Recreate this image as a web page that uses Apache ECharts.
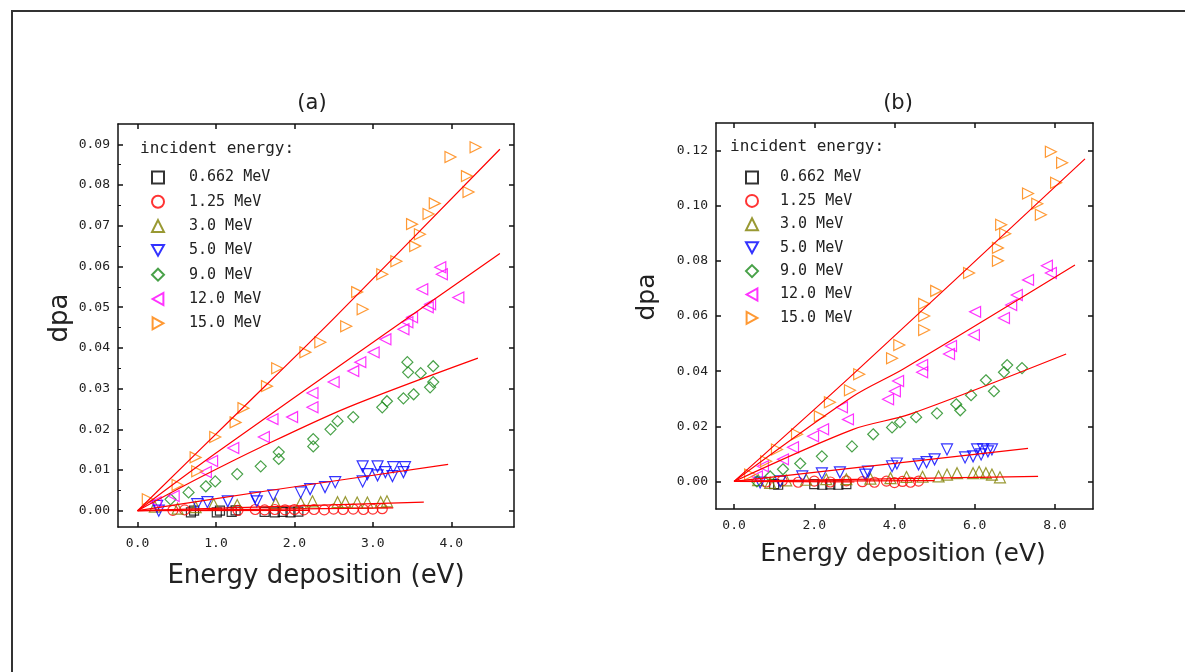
<!DOCTYPE html>
<html><head><meta charset="utf-8">
<script src="https://cdn.jsdelivr.net/npm/echarts@6/dist/echarts.min.js"></script>
<style>html,body{margin:0;padding:0;background:#fff}#c{width:1185px;height:672px}</style>
</head><body><div id="c"></div>
<script>
// ---------- categories / legend ----------
const seriesNames = ['0.662 MeV','1.25 MeV','3.0 MeV','5.0 MeV','9.0 MeV','12.0 MeV','15.0 MeV'];
const colors = ['#000000','#ff0000','#808000','#0000ff','#1a8a1a','#ff00ff','#ff8000'];
const symbols = ['rect','circle','triangle',
  'path://M0,0 L10,0 L5,9 Z',
  'diamond',
  'path://M9,0 L9,10 L0,5 Z',
  'path://M0,0 L9,5 L0,10 Z'];
const symbolSizes = [9,10,11,11,11,11,11];

// ---------- tick labels ----------
const xTicksA = [0,1,2,3,4];
const yTicksA = [0,0.01,0.02,0.03,0.04,0.05,0.06,0.07,0.08,0.09];
const yMinorA = [0.005,0.015,0.025,0.035,0.045,0.055,0.065,0.075,0.085];
const xTicksB = [0,2,4,6,8];
const yTicksB = [0,0.02,0.04,0.06,0.08,0.10,0.12];

// ---------- panel (a) data ----------
const a0662 = [[0.68,-0.0004],[0.72,0.0000],[1.01,-0.0004],[1.05,0.0000],[1.20,-0.0003],[1.25,0.0001],[1.62,-0.0003],[1.75,-0.0004],[1.85,-0.0003],[1.95,-0.0004],[2.05,-0.0002]];
const a125 = [[0.45,0.0001],[0.60,0.0002],[1.28,0.0001],[1.50,0.0003],[1.62,0.0002],[1.75,0.0003],[1.88,0.0002],[2.00,0.0003],[2.12,0.0002],[2.25,0.0003],[2.38,0.0002],[2.50,0.0004],[2.62,0.0003],[2.75,0.0004],[2.88,0.0003],[3.00,0.0004],[3.12,0.0005]];
const a30 = [[0.22,0.0010],[0.51,0.0005],[0.74,0.0009],[0.97,0.0016],[1.27,0.0014],[1.76,0.0018],[2.08,0.0019],[2.23,0.0023],[2.55,0.0021],[2.65,0.0021],[2.80,0.0020],[2.93,0.0020],[3.10,0.0021],[3.18,0.0023]];
const a50 = [[0.25,0.0012],[0.27,0.0000],[0.76,0.0016],[0.89,0.0021],[1.15,0.0023],[1.50,0.0033],[1.52,0.0023],[1.73,0.0038],[2.08,0.0045],[2.20,0.0053],[2.39,0.0058],[2.52,0.0070],[2.87,0.0072],[2.87,0.0109],[2.93,0.0090],[3.06,0.0109],[3.06,0.0087],[3.16,0.0095],[3.25,0.0085],[3.26,0.0107],[3.39,0.0095],[3.41,0.0107]];
const a90 = [[0.42,0.0028],[0.65,0.0045],[0.87,0.0060],[0.99,0.0072],[1.27,0.0090],[1.57,0.0109],[1.80,0.0127],[1.80,0.0144],[2.24,0.0158],[2.24,0.0176],[2.46,0.0200],[2.55,0.0220],[2.75,0.0230],[3.12,0.0254],[3.18,0.0269],[3.39,0.0276],[3.52,0.0286],[3.73,0.0303],[3.77,0.0316],[3.45,0.0340],[3.61,0.0338],[3.77,0.0355],[3.44,0.0365]];
const a120 = [[0.23,0.0021],[0.46,0.0036],[0.87,0.0095],[0.95,0.0122],[1.22,0.0154],[1.61,0.0181],[1.72,0.0225],[1.97,0.0230],[2.23,0.0254],[2.23,0.0289],[2.50,0.0316],[2.75,0.0343],[2.84,0.0365],[3.01,0.0389],[3.16,0.0421],[3.39,0.0446],[3.44,0.0463],[3.50,0.0475],[3.70,0.0500],[3.73,0.0507],[4.09,0.0524],[3.63,0.0544],[3.88,0.0581],[3.86,0.0598]];
const a150 = [[0.13,0.0028],[0.51,0.0063],[0.76,0.0097],[0.74,0.0131],[0.99,0.0181],[1.25,0.0217],[1.35,0.0252],[1.65,0.0306],[1.78,0.0350],[2.14,0.0389],[2.33,0.0414],[2.66,0.0453],[2.87,0.0495],[2.80,0.0537],[3.12,0.0581],[3.30,0.0613],[3.54,0.0650],[3.60,0.0679],[3.50,0.0704],[3.71,0.0729],[3.79,0.0755],[4.22,0.0783],[4.20,0.0822],[3.99,0.0869],[4.31,0.0893]];
// fitted curves (a)
const fitA0662 = [[0,0],[2.2,0.0001]];
const fitA125 = [[0,0],[3.26,0.0007]];
const fitA30 = [[0,0],[3.65,0.0021]];
const fitA50 = [[0,0],[1.66,0.0049],[3.96,0.0114]];
const fitA90 = [[0,0],[0.8,0.0082],[1.57,0.0156],[2.68,0.0254],[4.34,0.0375]];
const fitA120 = [[0,0],[1.0,0.0142],[2.93,0.0404],[4.62,0.0632]];
const fitA150 = [[0,0],[1.3,0.0245],[2.5,0.0472],[4.62,0.0888]];

// ---------- panel (b) data ----------
const b0662 = [[1.00,-0.0010],[1.10,-0.0012],[2.00,-0.0010],[2.20,-0.0012],[2.40,-0.0011],[2.60,-0.0012],[2.80,-0.0010]];
const b125 = [[0.80,-0.0002],[1.20,0.0002],[1.60,-0.0003],[2.00,0.0001],[2.40,-0.0002],[2.80,0.0002],[3.20,-0.0001],[3.50,-0.0003],[3.80,0.0001],[4.00,-0.0004],[4.20,0.0000],[4.40,-0.0003],[4.60,0.0001]];
const b30 = [[0.60,0.0005],[0.90,-0.0005],[1.30,0.0004],[1.80,0.0006],[2.30,0.0008],[2.80,0.0008],[3.40,0.0010],[3.90,0.0012],[4.30,0.0016],[4.70,0.0017],[5.10,0.0018],[5.31,0.0025],[5.56,0.0030],[5.96,0.0030],[6.11,0.0035],[6.28,0.0030],[6.43,0.0025],[6.63,0.0015]];
const b50 = [[0.65,-0.0004],[1.15,0.0000],[1.70,0.0018],[2.19,0.0029],[2.64,0.0033],[3.27,0.0025],[3.34,0.0036],[3.94,0.0055],[4.06,0.0065],[4.60,0.0062],[4.80,0.0070],[5.00,0.0080],[5.31,0.0116],[5.76,0.0087],[5.96,0.0091],[6.06,0.0116],[6.16,0.0098],[6.21,0.0116],[6.33,0.0109],[6.43,0.0116]];
const b90 = [[0.57,0.0000],[0.90,0.0018],[1.22,0.0044],[1.65,0.0065],[2.19,0.0091],[2.94,0.0127],[3.47,0.0171],[3.94,0.0196],[4.14,0.0215],[4.54,0.0233],[5.06,0.0247],[5.64,0.0258],[5.54,0.0280],[5.91,0.0313],[6.48,0.0327],[6.28,0.0367],[6.73,0.0396],[7.18,0.0411],[6.81,0.0422]];
const b120 = [[0.57,0.0018],[0.72,0.0055],[1.22,0.0080],[1.47,0.0124],[1.97,0.0164],[2.22,0.0189],[2.84,0.0225],[2.69,0.0269],[3.84,0.0298],[4.01,0.0327],[4.09,0.0364],[4.69,0.0396],[4.69,0.0422],[5.36,0.0462],[5.41,0.0491],[5.98,0.0531],[6.73,0.0593],[6.01,0.0615],[6.91,0.0640],[7.05,0.0676],[7.33,0.0731],[7.90,0.0756],[7.80,0.0782]];
const b150 = [[0.40,0.0025],[0.80,0.0073],[1.07,0.0116],[1.57,0.0171],[2.14,0.0236],[2.39,0.0287],[2.89,0.0331],[3.12,0.0389],[3.94,0.0447],[4.12,0.0495],[4.74,0.0549],[4.74,0.0600],[4.74,0.0644],[5.04,0.0691],[5.86,0.0756],[6.58,0.0800],[6.58,0.0847],[6.76,0.0898],[6.66,0.0931],[7.65,0.0967],[7.56,0.1007],[7.33,0.1044],[8.03,0.1083],[8.18,0.1156],[7.90,0.1196]];
// fitted curves (b)
const fitB0662 = [[0,0],[3.0,-0.0002]];
const fitB125 = [[0,0],[5.0,0.0003]];
const fitB30 = [[0,0],[7.58,0.0018]];
const fitB50 = [[0,0],[7.33,0.0120]];
const fitB90 = [[0,0],[2.97,0.0189],[4.39,0.0244],[8.28,0.0462]];
const fitB120 = [[0,0],[2.97,0.0309],[4.21,0.0407],[8.5,0.0785]];
const fitB150 = [[0,0],[2.97,0.0389],[8.75,0.1170]];

const dataA = [a0662,a125,a30,a50,a90,a120,a150];
const fitsA = [fitA0662,fitA125,fitA30,fitA50,fitA90,fitA120,fitA150];
const dataB = [b0662,b125,b30,b50,b90,b120,b150];
const fitsB = [fitB0662,fitB125,fitB30,fitB50,fitB90,fitB120,fitB150];

const MONO = '"DejaVu Sans Mono", monospace';
const SANS = '"DejaVu Sans", "Liberation Sans", sans-serif';
const frame = {color:'#111', width:1.5};

function xAx(grid, min, max, ticks, pos, labels){
  return {gridIndex:grid, type:'value', min:min, max:max, position:pos,
    axisLine:{onZero:false, lineStyle:frame},
    axisTick:{inside:true, length:5, customValues:ticks, lineStyle:{color:'#111', width:1.5}},
    axisLabel:{show:labels, customValues:ticks, formatter:v=>v.toFixed(1), margin:10,
      fontFamily:MONO, fontSize:13, color:'#222'},
    splitLine:{show:false}};
}
function yAx(grid, min, max, ticks, pos, labels){
  return {gridIndex:grid, type:'value', min:min, max:max, position:pos,
    axisLine:{onZero:false, lineStyle:frame},
    axisTick:{inside:true, length:5, customValues:ticks, lineStyle:{color:'#111', width:1.5}},
    axisLabel:{show:labels, customValues:ticks, formatter:v=>v.toFixed(2), margin:8,
      fontFamily:MONO, fontSize:13, color:'#222'},
    splitLine:{show:false}};
}
const minorA = {gridIndex:0, type:'value', min:-0.004, max:0.095, position:'left',
  axisLine:{show:false, onZero:false}, axisLabel:{show:false}, splitLine:{show:false},
  axisTick:{inside:true, length:3, customValues:yMinorA, lineStyle:{color:'#111', width:1}}};

const series = [];
function addPanel(data, fits, xi, yi){
  data.forEach((d,i)=>{
    series.push({type:'scatter', name:seriesNames[i], data:d, xAxisIndex:xi, yAxisIndex:yi,
      symbol:symbols[i], symbolSize:symbolSizes[i],
      itemStyle:{color:'rgba(255,255,255,0)', borderColor:colors[i], borderWidth:1.2}, z:2});
  });
  fits.forEach((d,i)=>{
    series.push({type:'line', name:'fit '+seriesNames[i], data:d, xAxisIndex:xi, yAxisIndex:yi,
      symbol:'none', smooth:0.3, lineStyle:{color:'#ff0000', width:1.2}, z:3, silent:true});
  });
}
addPanel(dataA, fitsA, 0, 0);
addPanel(dataB, fitsB, 2, 3);

function legendCfg(left, top, gap, pad){
  return {orient:'vertical', left:left, top:top, padding:0, itemWidth:12, itemHeight:12, itemGap:gap,
    data:seriesNames, selectedMode:false,
    textStyle:{fontFamily:MONO, fontSize:15, lineHeight:14, color:'#222', padding:[0,0,0,pad]}};
}

const option = {
  animation:false,
  backgroundColor:'#fff',
  grid:[
    {left:118, top:124, width:396, height:403},
    {left:716, top:123, width:377, height:386}
  ],
  xAxis:[
    xAx(0,-0.25,4.8,xTicksA,'bottom',true),
    xAx(0,-0.25,4.8,xTicksA,'top',false),
    xAx(1,-0.45,8.95,xTicksB,'bottom',true),
    xAx(1,-0.45,8.95,xTicksB,'top',false)
  ],
  yAxis:[
    yAx(0,-0.004,0.095,yTicksA,'left',true),
    yAx(0,-0.004,0.095,yTicksA,'right',false),
    minorA,
    yAx(1,-0.01,0.13,yTicksB,'left',true),
    yAx(1,-0.01,0.13,yTicksB,'right',false)
  ],
  legend:[legendCfg(151,170,9.3,20), legendCfg(745,170,8.4,17)],
  graphic:[
    {type:'rect', silent:true, shape:{x:12,y:11,width:1200,height:700}, style:{fill:'none', stroke:'#333', lineWidth:2}, z:-10},
    {type:'text', x:312, y:104, style:{text:'(a)', font:'21px '+SANS, fill:'#222', align:'center', verticalAlign:'middle'}},
    {type:'text', x:898, y:104, style:{text:'(b)', font:'21px '+SANS, fill:'#222', align:'center', verticalAlign:'middle'}},
    {type:'text', x:60, y:318, rotation:Math.PI/2, style:{text:'dpa', font:'26px '+SANS, fill:'#222', align:'center', verticalAlign:'middle'}},
    {type:'text', x:647, y:297, rotation:Math.PI/2, style:{text:'dpa', font:'25px '+SANS, fill:'#222', align:'center', verticalAlign:'middle'}},
    {type:'text', x:316, y:576, style:{text:'Energy deposition (eV)', font:'26px '+SANS, fill:'#222', align:'center', verticalAlign:'middle'}},
    {type:'text', x:903, y:554, style:{text:'Energy deposition (eV)', font:'25px '+SANS, fill:'#222', align:'center', verticalAlign:'middle'}},
    {type:'text', x:140, y:149, style:{text:'incident energy:', font:'16px '+MONO, fill:'#222', align:'left', verticalAlign:'middle'}},
    {type:'text', x:730, y:147, style:{text:'incident energy:', font:'16px '+MONO, fill:'#222', align:'left', verticalAlign:'middle'}}
  ],
  series:series
};
const chart = echarts.init(document.getElementById('c'));
chart.setOption(option);
</script>
</body></html>
